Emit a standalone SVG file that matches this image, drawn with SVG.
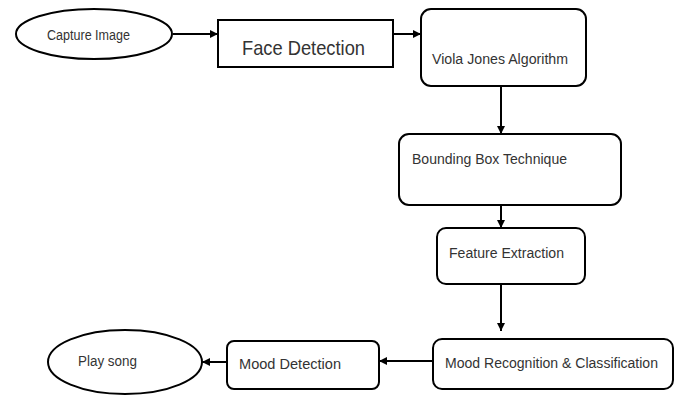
<svg xmlns="http://www.w3.org/2000/svg" width="678" height="397" viewBox="0 0 678 397">
<defs>
<marker id="ah" viewBox="0 0 10 10" refX="10" refY="5" markerWidth="8" markerHeight="8" markerUnits="userSpaceOnUse" orient="auto">
<path d="M0,0 L10,5 L0,10 z" fill="#000"/>
</marker>
<style>
.n{fill:#fff;stroke:#000;stroke-width:2}
.t{font-family:"Liberation Sans Narrow","Liberation Sans",Arial,sans-serif;font-size:14px;fill:#333}
.c{fill:none;stroke:#000;stroke-width:2;marker-end:url(#ah)}
</style>
</defs>
<rect width="678" height="397" fill="#fff"/>
<g id="connectors">
<line class="c" x1="173" y1="34" x2="218" y2="34"/>
<line class="c" x1="393" y1="34" x2="421" y2="34"/>
<line class="c" x1="501" y1="86" x2="501" y2="134"/>
<line class="c" x1="501" y1="205" x2="501" y2="228"/>
<line class="c" x1="501" y1="284" x2="501" y2="331"/>
<line class="c" x1="433" y1="361" x2="379" y2="361"/>
<line class="c" x1="227" y1="362" x2="202" y2="362"/>
</g>
<g id="capture">
<ellipse class="n" cx="94" cy="34" rx="78" ry="25"/>
<text class="t" x="47" y="40" textLength="83" lengthAdjust="spacingAndGlyphs">Capture Image</text>
</g>
<g id="face">
<rect class="n" x="218" y="20" width="175" height="47"/>
<text class="t" x="242" y="55" style="font-size:21px" textLength="123" lengthAdjust="spacingAndGlyphs">Face Detection</text>
</g>
<g id="viola">
<rect class="n" x="421" y="9" width="165" height="77" rx="10"/>
<text class="t" x="432" y="64" textLength="136" lengthAdjust="spacingAndGlyphs">Viola Jones Algorithm</text>
</g>
<g id="bbox">
<rect class="n" x="399" y="134" width="222" height="71" rx="10"/>
<text class="t" x="412" y="164" textLength="155" lengthAdjust="spacingAndGlyphs">Bounding Box Technique</text>
</g>
<g id="feature">
<rect class="n" x="437" y="228" width="148" height="56" rx="9"/>
<text class="t" x="449" y="258" textLength="115" lengthAdjust="spacingAndGlyphs">Feature Extraction</text>
</g>
<g id="moodrec">
<rect class="n" x="433" y="339" width="240" height="50" rx="9"/>
<text class="t" x="445" y="368" textLength="213" lengthAdjust="spacingAndGlyphs">Mood Recognition &amp; Classification</text>
</g>
<g id="mooddet">
<rect class="n" x="227" y="341" width="152" height="48" rx="7"/>
<text class="t" x="239" y="369" textLength="102" lengthAdjust="spacingAndGlyphs">Mood Detection</text>
</g>
<g id="play">
<ellipse class="n" cx="125" cy="362" rx="77" ry="32"/>
<text class="t" x="78" y="366" textLength="59" lengthAdjust="spacingAndGlyphs">Play song</text>
</g>
</svg>
